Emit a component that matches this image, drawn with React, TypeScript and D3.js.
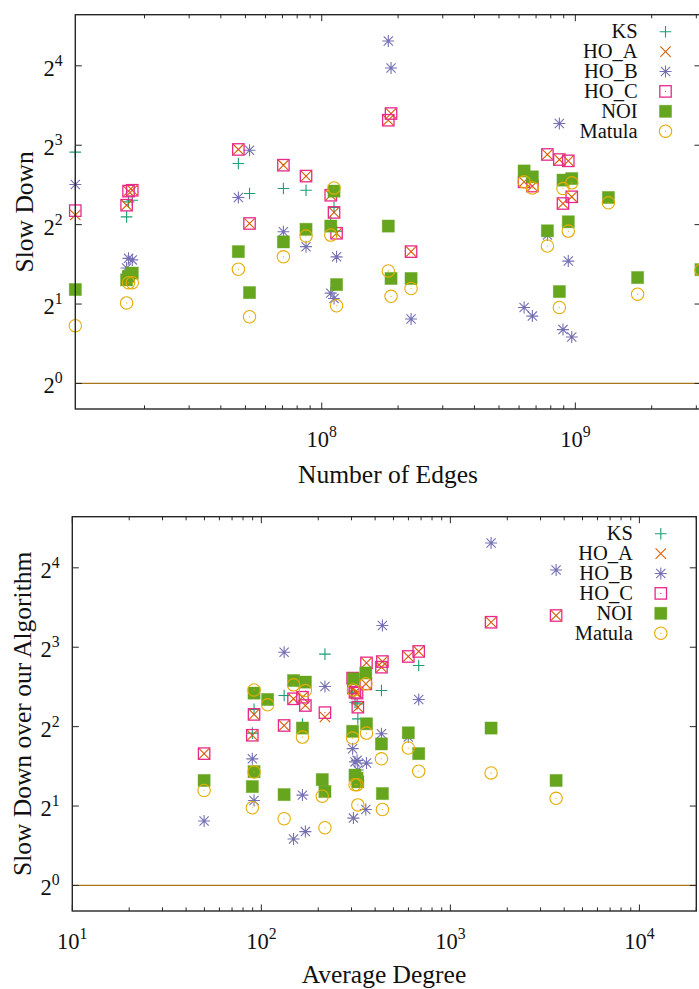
import React from 'react';
import * as d3 from 'd3';

// One entry per input graph: number of edges and average degree.
const edges = [
  1.067e7, 1.70e7, 1.73e7, 1.79e7, 4.69e7, 5.19e7, 7.06e7, 8.67e7,
  1.085e8, 1.118e8, 1.144e8, 1.83e8, 1.876e8, 2.25e8, 6.28e8, 6.77e8,
  7.76e8, 8.65e8, 8.94e8, 9.38e8, 9.68e8, 1.35e9, 1.76e9, 3.13e9,
];
const avgDegree = [
  217, 324, 321, 313, 680, 132, 432, 304,
  165, 91.5, 89.6, 1642, 3625, 49.8, 357, 307,
  599, 437, 171, 360, 148, 108, 210, 91.5,
];

// Slow down of each algorithm relative to ours (null = no result).
const ks = [7.53, 4.28, 4.88, 4.95, 6.82, 5.25, 5.48, 5.40, 4.09, 4.65, 3.78,
  null, null, null, null, null, null, null, null, null, null, null, null, null];
const hoA = [4.35, 4.74, 5.36, 5.40, 7.71, 4.04, 6.72, 6.11, 5.17, 4.45, 3.71,
  9.95, 10.55, 3.16, 5.81, 5.60, 7.38, 7.06, 4.81, 6.98, 5.10, null, null, null];
const hoB = [5.68, 2.74, 2.98, 2.94, 5.07, 7.66, 3.76, 3.30, 2.20, 2.10, 3.02,
  19.86, 15.69, 1.755, 1.94, 1.80, 3.65, 9.67, 1.60, 2.91, 1.50, null, null, null];
const hoC = [4.52, 4.74, 5.36, 5.40, 7.71, 4.04, 6.72, 6.11, 5.17, 4.45, 3.71,
  9.95, 10.55, 3.16, 5.81, 5.60, 7.38, 7.06, 4.81, 6.98, 5.10, null, null, null];
const noi = [2.27, 2.47, 2.55, 2.62, 3.16, 2.21, 3.44, 3.84, 3.95, 5.36, 2.37,
  3.95, 2.50, 2.50, 6.39, 6.07, 3.79, 2.23, 5.90, 4.10, 5.98, 5.07, 2.52, 2.70];
const matula = [1.655, 2.02, 2.41, 2.41, 2.71, 1.79, 3.02, 3.62, 3.65, 5.51, 1.97,
  2.67, 2.14, 2.29, 5.81, 5.51, 3.32, 1.94, 5.48, 3.78, 5.76, 4.84, 2.18, 2.69];

const seriesNames = ['KS', 'HO_A', 'HO_B', 'HO_C', 'NOI', 'Matula'];
const seriesValues = [ks, hoA, hoB, hoC, noi, matula];

// Tick labels (exponents)
const yTickExponents = [0, 1, 2, 3, 4];
const edgeTickExponents = [8, 9];
const degreeTickExponents = [1, 2, 3, 4];

const yDomain = [0.8, 25];
const edgeDomain = [1.067e7, 3.13e9];
const degreeDomain = [10, 2e4];

// Styling
const seriesColors = ['#1b9e77', '#d95f02', '#7570b3', '#e7298a', '#66a61e', '#e6ab02'];
type Marker = 'plus' | 'cross' | 'star' | 'square' | 'filled' | 'circle';
const seriesMarkers: Marker[] = ['plus', 'cross', 'star', 'square', 'filled', 'circle'];
const FONT = '"Liberation Serif", "Times New Roman", serif';
const FRAME = '#262626';

function MarkerShape({ kind, x, y, color }: { kind: Marker; x: number; y: number; color: string }) {
  const sw = 1.1;
  switch (kind) {
    case 'plus': {
      const s = 5.8;
      return <path d={`M${x - s},${y}H${x + s}M${x},${y - s}V${y + s}`} stroke={color} strokeWidth={sw} fill="none" />;
    }
    case 'cross': {
      const s = 5.2;
      return <path d={`M${x - s},${y - s}L${x + s},${y + s}M${x - s},${y + s}L${x + s},${y - s}`} stroke={color} strokeWidth={sw} fill="none" />;
    }
    case 'star': {
      const s = 6, d = 4.6;
      return (
        <g>
          <path d={`M${x - s},${y}H${x + s}M${x},${y - s}V${y + s}M${x - d},${y - d}L${x + d},${y + d}M${x - d},${y + d}L${x + d},${y - d}`}
            stroke={color} strokeWidth={sw} fill="none" />
          <circle cx={x} cy={y} r={1} fill={color} />
        </g>
      );
    }
    case 'square': {
      const s = 5.7;
      return (
        <g>
          <rect x={x - s} y={y - s} width={2 * s} height={2 * s} stroke={color} strokeWidth={1.3} fill="none" />
          <circle cx={x} cy={y} r={0.6} fill={color} />
        </g>
      );
    }
    case 'filled': {
      const s = 6.1;
      return <rect x={x - s} y={y - s} width={2 * s} height={2 * s} fill={color} stroke={color} strokeOpacity={0.45} strokeWidth={0.8} />;
    }
    case 'circle':
    default:
      return (
        <g>
          <circle cx={x} cy={y} r={6.2} stroke={color} strokeWidth={1.1} fill="none" />
          <circle cx={x} cy={y} r={0.6} fill={color} />
        </g>
      );
  }
}

function PowerLabel({ x, y, base, exp, anchor, size }: { x: number; y: number; base: string; exp: number; anchor: string; size: number }) {
  return (
    <text x={x} y={y} textAnchor={anchor} fontFamily={FONT} fontSize={size} fill="#111">
      <tspan>{base}</tspan>
      <tspan dy={-10} fontSize={size * 0.7}>{exp}</tspan>
    </text>
  );
}

interface PanelProps {
  xValues: number[];
  xDomain: number[];
  xTickExps: number[];
  left: number; right: number; top: number; bottom: number;
  xTitle: string; yTitle: string;
  xTitleX: number; xTitleY: number; yTitleX: number;
}

function Panel(p: PanelProps) {
  const x = d3.scaleLog().domain(p.xDomain).range([p.left, p.right]);
  const y = d3.scaleLog().base(2).domain(yDomain).range([p.bottom, p.top]);

  // major and minor decade ticks inside the domain
  const ticks: { v: number; major: boolean }[] = [];
  const k0 = Math.floor(Math.log10(p.xDomain[0]));
  const k1 = Math.ceil(Math.log10(p.xDomain[1]));
  for (let k = k0; k <= k1; k++) {
    for (let m = 1; m <= 9; m++) {
      const v = m * Math.pow(10, k);
      if (v >= p.xDomain[0] * 0.9999 && v <= p.xDomain[1] * 1.0001) ticks.push({ v, major: m === 1 });
    }
  }
  const major = 6.5, minor = 3.6;

  const legendTextX = p.right - 63.4;
  const legendSymX = p.right - 35.5;
  const legendY0 = p.top + 17;

  return (
    <g>
      {/* reference line at slow down = 1 */}
      <line x1={p.left} x2={p.right} y1={y(1)} y2={y(1)} stroke="#a6761d" strokeWidth={1.3} />

      {/* ticks */}
      {ticks.map((t, i) => {
        const xx = x(t.v);
        const len = t.major ? major : minor;
        return (
          <g key={`xt${i}`} stroke={FRAME} strokeWidth={1}>
            <line x1={xx} x2={xx} y1={p.bottom} y2={p.bottom - len} />
            <line x1={xx} x2={xx} y1={p.top} y2={p.top + len} />
          </g>
        );
      })}
      {yTickExponents.map((e) => {
        const yy = y(Math.pow(2, e));
        return (
          <g key={`yt${e}`} stroke={FRAME} strokeWidth={1}>
            <line x1={p.left} x2={p.left + major} y1={yy} y2={yy} />
            <line x1={p.right} x2={p.right - major} y1={yy} y2={yy} />
          </g>
        );
      })}

      {/* tick labels */}
      {yTickExponents.map((e) => (
        <PowerLabel key={`yl${e}`} x={p.left - 12.8} y={y(Math.pow(2, e)) + 10} base="2" exp={e} anchor="end" size={22.5} />
      ))}
      {p.xTickExps.map((e) => (
        <PowerLabel key={`xl${e}`} x={x(Math.pow(10, e))} y={p.bottom + 37.5} base="10" exp={e} anchor="middle" size={22.5} />
      ))}

      {/* axis titles */}
      <text x={p.xTitleX} y={p.xTitleY} textAnchor="middle" fontFamily={FONT} fontSize={25.5} fill="#111">{p.xTitle}</text>
      <text transform={`translate(${p.yTitleX},${(p.top + p.bottom) / 2}) rotate(-90)`} textAnchor="middle"
        fontFamily={FONT} fontSize={25.5} fill="#111">{p.yTitle}</text>

      {/* data points */}
      {seriesValues.map((vals, si) => (
        <g key={`s${si}`}>
          {vals.map((v, gi) => v == null ? null : (
            <MarkerShape key={gi} kind={seriesMarkers[si]} x={x(p.xValues[gi])} y={y(v)} color={seriesColors[si]} />
          ))}
        </g>
      ))}

      {/* legend */}
      {seriesNames.map((name, si) => {
        const ry = legendY0 + si * 19.9;
        return (
          <g key={`lg${si}`}>
            <text x={legendTextX} y={ry + 6.5} textAnchor="end" fontFamily={FONT} fontSize={20.5} fill="#111">{name}</text>
            <MarkerShape kind={seriesMarkers[si]} x={legendSymX} y={ry} color={seriesColors[si]} />
          </g>
        );
      })}

      {/* frame */}
      <rect x={p.left} y={p.top} width={p.right - p.left} height={p.bottom - p.top} fill="none" stroke={FRAME} strokeWidth={1.4} />
    </g>
  );
}

export default function App() {
  return (
    <svg width={699} height={989} viewBox="0 0 699 989"
      style={{ position: 'absolute', left: 0, top: 0, background: '#fff' }}>
      <rect x={0} y={0} width={699} height={989} fill="#fff" />
      <Panel xValues={edges} xDomain={edgeDomain} xTickExps={edgeTickExponents}
        left={75.3} right={701} top={14.7} bottom={409}
        xTitle="Number of Edges" yTitle="Slow Down"
        xTitleX={388} xTitleY={483} yTitleX={33} />
      <Panel xValues={avgDegree} xDomain={degreeDomain} xTickExps={degreeTickExponents}
        left={72.3} right={696.3} top={516.7} bottom={911}
        xTitle="Average Degree" yTitle="Slow Down over our Algorithm"
        xTitleX={384} xTitleY={982.5} yTitleX={31} />
    </svg>
  );
}
